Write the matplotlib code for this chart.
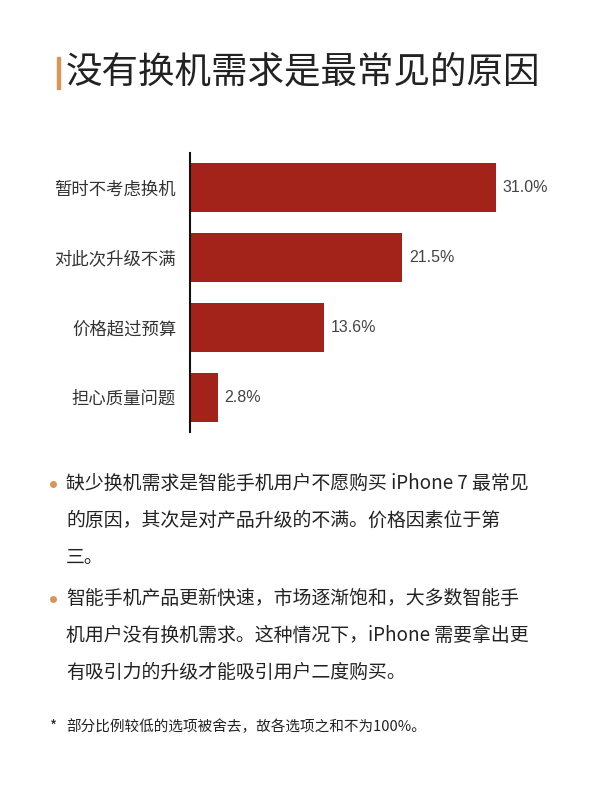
import matplotlib
matplotlib.use("Agg")
import matplotlib.pyplot as plt
from matplotlib.lines import Line2D

plt.rcParams['font.family'] = ['Noto Sans CJK SC', 'DejaVu Sans']

# 数据
categories = ['暂时不考虑换机', '对此次升级不满', '价格超过预算', '担心质量问题']
values = [31.0, 21.5, 13.6, 2.8]

title = '没有换机需求是最常见的原因'
bullet_1 = ['缺少换机需求是智能手机用户不愿购买 iPhone 7 最常见',
            '的原因，其次是对产品升级的不满。价格因素位于第',
            '三。']
bullet_2 = ['智能手机产品更新快速，市场逐渐饱和，大多数智能手',
            '机用户没有换机需求。这种情况下，iPhone 需要拿出更',
            '有吸引力的升级才能吸引用户二度购买。']
footnote = '部分比例较低的选项被舍去，故各选项之和不为100%。'

bar_color = '#a3231a'
accent = '#d9955a'

fig = plt.figure(figsize=(6, 8), dpi=100)
fig.patch.set_facecolor('white')

# 标题
fig.patches.append(plt.Rectangle((57 / 600, 1 - 89 / 800), 3 / 600, 32 / 800,
                                 transform=fig.transFigure, color=accent))
fig.text(66 / 600, 1 - 72 / 800, title, fontsize=26.3, color='#222222',
         va='center', ha='left', weight='light')

# 条形图
ax = fig.add_axes([190 / 600, 1 - 432 / 800, 345 / 600, 279 / 800])
ypos = list(range(len(categories)))
ax.barh(ypos, values, height=0.7, color=bar_color)
ax.set_xlim(0, 35)
ax.set_ylim(3.5, -0.5)
ax.set_yticks(ypos)
ax.set_yticklabels(categories, fontsize=12.5, color='#333333')
ax.tick_params(axis='y', length=0, pad=10)
ax.set_xticks([])
for s in ['top', 'right', 'bottom']:
    ax.spines[s].set_visible(False)
ax.spines['left'].set_linewidth(1.5)
ax.spines['left'].set_color('#111111')
for y, v in zip(ypos, values):
    ax.text(v + 0.7, y, f'{v:.1f}%', va='center', ha='left', fontsize=11.5,
            color='#444444', family=['Liberation Sans', 'DejaVu Sans'])

# 说明文字
line_h = 37
def draw_bullet(lines, y0):
    fig.add_artist(Line2D([53 / 600], [1 - (y0 + 1) / 800], marker='o',
                          markersize=4, color=accent, linestyle='none',
                          transform=fig.transFigure))
    for i, t in enumerate(lines):
        fig.text(66 / 600, 1 - (y0 + i * line_h) / 800, t, fontsize=13.6,
                 color='#222222', va='center', ha='left')

draw_bullet(bullet_1, 483)
draw_bullet(bullet_2, 598)

fig.text(50 / 600, 1 - 727 / 800, '*', fontsize=11, color='#222222',
         va='center', ha='left')
fig.text(66 / 600, 1 - 727 / 800, footnote, fontsize=10.5, color='#222222',
         va='center', ha='left')

fig.savefig('out.png', dpi=100)
